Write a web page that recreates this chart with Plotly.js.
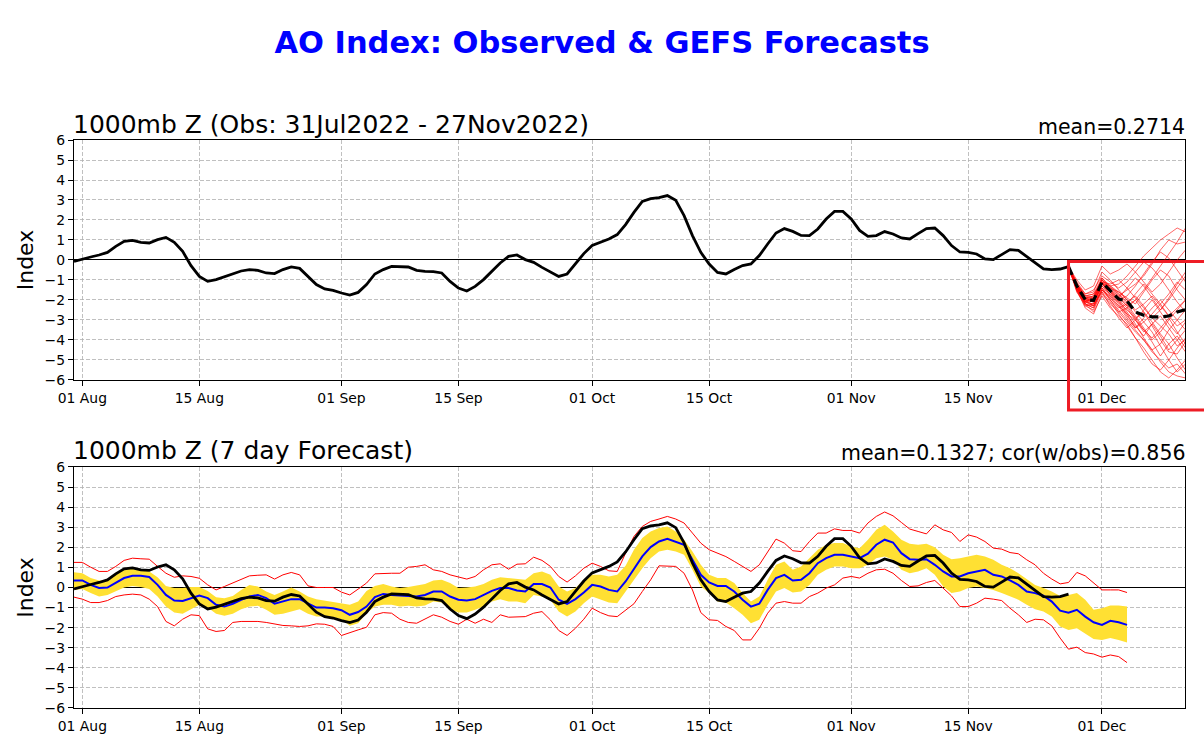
<!DOCTYPE html>
<html><head><meta charset="utf-8">
<script src="https://cdn.plot.ly/plotly-3.0.1.min.js"></script>
<style>html,body{margin:0;padding:0;background:#fff}#chart{width:1204px;height:748px}</style>
</head><body><div id="chart"></div>
<script>
// ---------------- DATA ----------------
const startDate = '2022-07-31';           // first observed day (index 0)
const obsAO = [
 -0.07, 0.05, 0.15, 0.25, 0.38, 0.68, 0.93, 0.98, 0.88, 0.85,
  1.02, 1.13, 0.88, 0.43,-0.28,-0.82,-1.07,-0.98,-0.83,-0.70,
 -0.55,-0.48,-0.52,-0.65,-0.68,-0.48,-0.35,-0.42,-0.82,-1.23,
 -1.45,-1.52,-1.65,-1.75,-1.62,-1.23,-0.70,-0.48,-0.32,-0.32,
 -0.35,-0.52,-0.57,-0.58,-0.65,-1.07,-1.40,-1.55,-1.32,-0.98,
 -0.57,-0.15, 0.18, 0.25, 0.02,-0.12,-0.37,-0.58,-0.82,-0.70,
 -0.20, 0.32, 0.73, 0.88, 1.05, 1.27, 1.77, 2.38, 2.93, 3.07,
  3.12, 3.22, 2.98, 2.22, 1.22, 0.38,-0.20,-0.62,-0.70,-0.48,
 -0.28,-0.20, 0.22, 0.80, 1.35, 1.57, 1.43, 1.23, 1.22, 1.55,
  2.05, 2.43, 2.43, 2.05, 1.48, 1.18, 1.22, 1.42, 1.30, 1.10,
  1.05, 1.32, 1.57, 1.60, 1.22, 0.72, 0.40, 0.38, 0.30, 0.05,
  0.02, 0.27, 0.52, 0.48, 0.18,-0.15,-0.45,-0.48,-0.45,-0.33
];
// 7-day GEFS forecast (verifying 31 Jul .. 04 Dec)
const fcst7Mean = [
  0.35, 0.35, 0.13,-0.02, 0.00, 0.22, 0.47, 0.58, 0.58, 0.52,
  0.13,-0.37,-0.65,-0.67,-0.53,-0.40,-0.53,-0.86,-0.95,-0.81,
 -0.61,-0.45,-0.37,-0.53,-0.81,-0.70,-0.58,-0.58,-0.78,-1.00,
 -1.00,-1.03,-1.13,-1.36,-1.22,-0.95,-0.48,-0.32,-0.37,-0.40,
 -0.45,-0.45,-0.37,-0.20,-0.20,-0.45,-0.61,-0.65,-0.58,-0.37,
 -0.17,-0.03,-0.03,-0.15,-0.20, 0.17, 0.17, 0.00,-0.61,-0.81,
 -0.58,-0.25, 0.13, 0.05,-0.12,-0.20, 0.30, 0.92, 1.55, 2.01,
  2.29, 2.42, 2.29, 2.13, 1.38, 0.63, 0.25, 0.08, 0.08,-0.20,
 -0.61,-0.95,-0.81,-0.12, 0.47, 0.63, 0.35, 0.38, 0.71, 1.21,
  1.46, 1.63, 1.63, 1.54, 1.46, 1.68, 2.13, 2.38, 2.24, 1.71,
  1.41, 1.38, 1.41, 1.13, 0.80, 0.55, 0.55, 0.71, 0.80, 0.88,
  0.63, 0.55, 0.35, 0.13,-0.20,-0.28,-0.41,-0.70,-1.15,-1.25,
 -1.11,-1.45,-1.73,-1.86,-1.66,-1.73,-1.86
];
const fcst7SpreadHi = [
  0.76, 0.71, 0.47, 0.35, 0.38, 0.63, 0.88, 0.96, 0.91, 0.80,
  0.51, 0.08,-0.03,-0.03, 0.02, 0.02,-0.17,-0.48,-0.53,-0.42,
 -0.12, 0.13, 0.05,-0.20,-0.37,-0.20, 0.00,-0.20,-0.45,-0.58,
 -0.65,-0.70,-0.78,-0.86,-0.70,-0.17, 0.08, 0.18, 0.05,-0.03,
  0.02, 0.08, 0.17, 0.35, 0.38, 0.22,-0.03, 0.00, 0.05, 0.18,
  0.38, 0.51, 0.47, 0.42, 0.38, 0.71, 0.80, 0.63, 0.05,-0.20,
 -0.03, 0.38, 0.63, 0.63, 0.55, 0.63, 1.08, 1.88, 2.46, 2.79,
  2.96, 3.04, 2.79, 2.38, 1.79, 1.13, 0.63, 0.47, 0.47, 0.22,
 -0.28,-0.70,-0.45, 0.38, 1.13, 1.30, 0.88, 1.05, 1.46, 1.88,
  2.13, 2.21, 2.21, 2.04, 1.96, 2.38, 2.87, 3.12, 2.79, 2.38,
  2.18, 2.13, 2.18, 2.01, 1.63, 1.41, 1.46, 1.54, 1.63, 1.54,
  1.38, 1.13, 0.96, 0.71, 0.42, 0.13,-0.03,-0.20,-0.42,-0.37,
 -0.28,-0.61,-1.11,-1.03,-0.90,-0.90,-0.95
];
const fcst7SpreadLo = [
 -0.12,-0.08,-0.28,-0.45,-0.37,-0.20, 0.00, 0.08, 0.02,-0.08,
 -0.45,-0.95,-1.25,-1.31,-1.08,-0.86,-1.00,-1.31,-1.41,-1.31,
 -1.08,-0.95,-0.91,-1.11,-1.36,-1.31,-1.20,-1.08,-1.31,-1.45,
 -1.45,-1.48,-1.58,-1.91,-1.78,-1.28,-0.95,-0.86,-0.86,-0.95,
 -0.91,-0.95,-0.90,-0.70,-0.75,-1.08,-1.25,-1.25,-1.11,-0.95,
 -0.70,-0.58,-0.70,-0.70,-0.78,-0.37,-0.45,-0.61,-1.20,-1.45,
 -1.20,-0.78,-0.45,-0.61,-0.75,-0.78,-0.20, 0.38, 0.96, 1.46,
  1.79, 1.88, 1.79, 1.63, 0.88, 0.05,-0.28,-0.70,-0.75,-1.03,
 -1.36,-1.78,-1.61,-0.86,-0.20,-0.03,-0.25,-0.20, 0.13, 0.63,
  0.88, 1.05, 1.05, 0.96, 0.96, 1.13, 1.46, 1.54, 1.38, 0.88,
  0.71, 0.80, 0.96, 0.63, 0.05,-0.28,-0.20,-0.03, 0.05,-0.03,
 -0.12,-0.28,-0.45,-0.61,-0.86,-1.08,-1.20,-1.45,-1.94,-2.11,
 -2.03,-2.28,-2.57,-2.61,-2.52,-2.61,-2.74
];
const fcst7Max = [
  1.25, 1.25, 1.01, 0.80, 0.80, 1.05, 1.35, 1.46, 1.43, 1.41,
  1.05, 0.71, 0.51, 0.58, 0.55, 0.46, 0.13,-0.12, 0.05, 0.22,
  0.42, 0.58, 0.61, 0.63, 0.42, 0.63, 0.75, 0.63, 0.08, 0.00,
  0.00, 0.00,-0.23,-0.37,-0.08, 0.22, 0.68, 0.71, 0.71, 0.71,
  1.01, 1.05, 1.13, 0.88, 0.80, 0.63, 0.51, 0.42, 0.55, 0.88,
  1.13, 1.18, 0.91, 1.16, 1.18, 1.51, 1.35, 1.05, 0.55, 0.27,
  0.58, 0.96, 1.21, 1.05, 0.83, 0.80, 1.71, 2.54, 3.04, 3.29,
  3.41, 3.54, 3.41, 3.21, 2.71, 2.21, 1.88, 1.71, 1.54, 1.30,
  1.05, 0.80, 1.13, 1.79, 2.41, 2.21, 1.83, 1.79, 2.29, 2.71,
  2.71, 2.92, 2.84, 2.84, 2.71, 3.21, 3.54, 3.76, 3.57, 3.24,
  2.91, 2.79, 2.67, 3.12, 2.87, 2.74, 2.29, 2.62, 2.51, 2.29,
  1.96, 1.91, 1.74, 1.68, 1.38, 1.13, 0.71, 0.42, 0.18, 0.25,
  0.75, 0.58, 0.22,-0.12,-0.12,-0.12,-0.25
];
const fcst7Min = [
 -0.48,-0.58,-0.75,-0.75,-0.65,-0.45,-0.37,-0.33,-0.37,-0.58,
 -0.95,-1.69,-1.91,-1.58,-1.36,-1.40,-2.06,-2.19,-2.14,-1.74,
 -1.69,-1.69,-1.69,-1.74,-1.81,-1.89,-1.91,-1.94,-1.91,-1.81,
 -1.83,-1.94,-2.39,-2.24,-2.11,-1.98,-1.36,-1.25,-1.28,-1.58,
 -1.74,-1.78,-1.58,-1.36,-1.48,-1.69,-1.83,-1.58,-1.78,-1.58,
 -1.74,-1.36,-1.48,-1.45,-1.45,-1.28,-1.20,-1.61,-2.14,-2.39,
 -2.03,-1.58,-1.03,-1.25,-1.41,-1.45,-1.11,-0.81,-0.20, 0.38,
  1.08, 1.08, 1.05, 0.71,-0.12,-1.25,-1.61,-1.64,-1.94,-2.14,
 -2.61,-2.61,-2.03,-1.28,-0.78,-0.70,-0.78,-0.78,-0.45,-0.28,
 -0.03, 0.13, 0.47, 0.55, 0.47, 0.71, 0.88, 0.91, 0.71, 0.35,
  0.05, 0.08, 0.25, 0.35,-0.03,-0.42,-0.95,-0.95,-0.78,-0.53,
 -0.58,-0.65,-1.03,-1.36,-1.74,-1.58,-1.61,-1.91,-2.52,-3.07,
 -2.97,-3.24,-3.31,-3.47,-3.36,-3.44,-3.74
];
// GEFS ensemble from 27 Nov (index 119)
const ensStartIndex = 119;
const ensMean = [-0.33,-1.30,-1.98,-2.02,-1.12,-1.55,-1.95,-2.05,-2.60,-2.76,-2.84,-2.85,-2.80,-2.60,-2.48];
const ensMembers = [
 [-0.33,-1.2,-1.9,-1.8,-1.0,-1.3,-1.2,-0.8,-0.3, 0.2, 0.6, 1.0, 1.3, 1.6, 1.4, 1.2],
 [-0.33,-1.4,-2.1,-2.2,-1.2,-1.6,-2.0,-2.6,-3.2,-3.9,-4.5,-5.1,-5.6,-5.8,-5.9,-6.0],
 [-0.33,-1.3,-2.0,-1.9,-0.9,-1.4,-1.8,-1.5,-1.2,-0.8,-0.2, 0.5, 1.0, 0.8, 0.9, 1.0],
 [-0.33,-1.5,-2.2,-2.4,-1.5,-2.0,-2.6,-3.1,-3.6,-4.0,-4.6,-5.0,-5.4,-5.2,-5.7,-5.8],
 [-0.33,-1.1,-1.7,-1.6,-0.6,-1.0,-1.5,-2.0,-2.5,-2.2,-1.8,-2.3,-2.8,-3.3,-3.0,-2.6],
 [-0.33,-1.6,-2.3,-2.5,-1.6,-2.3,-2.9,-3.4,-3.0,-3.5,-4.1,-4.8,-4.2,-3.8,-4.4,-4.5],
 [-0.33,-1.3,-1.8,-1.7,-1.1,-1.4,-1.6,-1.9,-2.2,-1.6,-1.0,-0.5,-0.8,-1.5,-2.0,-2.2],
 [-0.33,-1.4,-2.0,-2.1,-1.3,-1.7,-2.2,-2.8,-3.3,-3.8,-3.2,-2.8,-3.4,-4.0,-4.6,-4.8],
 [-0.33,-1.2,-1.9,-1.9,-1.2,-1.5,-1.9,-1.4,-0.9,-1.3,-1.9,-2.5,-2.0,-1.4,-0.8,-0.5],
 [-0.33,-1.5,-2.1,-2.0,-1.4,-1.9,-2.4,-2.2,-2.8,-3.4,-4.0,-3.6,-3.0,-2.5,-2.0,-1.8],
 [-0.33,-1.3,-2.0,-2.3,-1.5,-1.8,-2.1,-2.5,-2.9,-2.6,-3.1,-3.7,-4.2,-4.9,-5.5,-5.6],
 [-0.33,-1.4,-2.2,-2.6,-1.8,-2.4,-2.8,-3.2,-3.9,-4.4,-5.0,-5.6,-5.9,-5.5,-5.0,-4.8],
 [-0.33,-1.0,-1.5,-1.3,-0.3,-0.7,-0.5,-0.2,-0.6,-1.1,-1.6,-1.2,-0.6, 0.0, 0.5, 0.7],
 [-0.33,-1.4,-1.9,-1.8,-1.0,-1.4,-1.7,-2.1,-1.8,-2.3,-2.9,-2.5,-1.9,-1.2,-0.6,-0.3],
 [-0.33,-1.3,-2.1,-2.2,-1.3,-1.6,-2.1,-2.7,-3.0,-3.6,-3.2,-3.8,-4.5,-4.0,-3.5,-3.2],
 [-0.33,-1.2,-1.8,-1.9,-1.1,-1.2,-1.0,-1.4,-1.9,-2.4,-2.9,-3.3,-3.7,-4.3,-4.0,-3.8],
 [-0.33,-1.5,-2.4,-2.7,-1.7,-2.2,-2.6,-2.4,-2.0,-2.6,-3.3,-4.0,-4.6,-4.7,-4.1,-3.9],
 [-0.33,-1.3,-1.9,-2.0,-1.2,-1.5,-1.8,-2.3,-2.0,-1.5,-0.9,-0.3, 0.3, 0.9, 1.6, 1.7],
 [-0.33,-1.4,-2.0,-2.1,-1.1,-1.8,-2.3,-2.7,-3.4,-2.9,-2.4,-2.0,-2.5,-3.0,-3.5,-3.4],
 [-0.33,-1.6,-2.2,-2.3,-1.4,-2.0,-2.5,-3.0,-3.5,-4.0,-4.5,-4.2,-3.5,-3.0,-2.5,-2.7],
 [-0.33,-1.2,-1.7,-1.5,-0.8,-1.1,-1.4,-1.1,-0.6,-0.1,-0.4,-0.9,-1.5,-2.1,-2.6,-2.9],
 [-0.33,-1.5,-2.3,-2.2,-1.6,-2.1,-2.7,-3.3,-3.9,-4.6,-5.2,-5.5,-5.0,-4.4,-3.9,-3.6],
 [-0.33,-1.3,-1.9,-2.1,-1.2,-1.3,-1.6,-2.0,-2.6,-3.1,-2.7,-2.2,-1.7,-1.1,-1.5,-1.9],
 [-0.33,-1.4,-2.1,-1.9,-1.1,-1.6,-1.9,-2.3,-2.9,-3.5,-3.9,-3.4,-2.9,-3.6,-4.2,-4.1],
 [-0.33,-1.2,-1.8,-1.7,-0.9,-1.3,-1.7,-2.2,-1.7,-1.2,-1.7,-2.2,-2.8,-2.4,-2.0,-1.5],
 [-0.33,-1.5,-2.2,-2.4,-1.5,-1.9,-2.3,-2.9,-3.4,-3.1,-3.6,-4.3,-5.0,-5.6,-5.2,-5.3],
 [-0.33,-1.3,-2.0,-2.0,-1.0,-1.5,-2.0,-1.8,-1.3,-0.7,-0.1, 0.4, 0.1,-0.5,-1.1,-1.3],
 [-0.33,-1.4,-2.1,-2.3,-1.4,-1.7,-2.0,-2.4,-3.0,-2.5,-2.0,-2.6,-3.2,-3.7,-3.1,-2.9]
];
const tickDates  = ['2022-08-01','2022-08-15','2022-09-01','2022-09-15','2022-10-01','2022-10-15','2022-11-01','2022-11-15','2022-12-01'];
const tickLabels = ['01 Aug','15 Aug','01 Sep','15 Sep','01 Oct','15 Oct','01 Nov','15 Nov','01 Dec'];
const mainTitle = 'AO Index: Observed & GEFS Forecasts';
const topTitle = '1000mb Z (Obs: 31Jul2022 - 27Nov2022)';
const topStat = 'mean=0.2714';
const botTitle = '1000mb Z (7 day Forecast)';
const botStat = 'mean=0.1327; cor(w/obs)=0.856';

// ---------------- HELPERS ----------------
function dayStr(i){ const d = new Date(Date.UTC(2022, 6, 31 + i)); return d.toISOString().slice(0,10); }
function dates(n, offset){ const a=[]; for(let i=0;i<n;i++) a.push(dayStr(i+(offset||0))); return a; }

const xRange = ['2022-07-31 00:00', '2022-12-10 22:30'];
const FONT = 'DejaVu Sans, Liberation Sans, sans-serif';

const traces = [];
// top panel: ensemble members
ensMembers.forEach(m => traces.push({
  x: dates(m.length, ensStartIndex), y: m, type:'scatter', mode:'lines',
  line:{color:'rgba(255,0,0,0.75)', width:0.8}, xaxis:'x', yaxis:'y', hoverinfo:'skip'
}));
traces.push({ x: dates(ensMean.length, ensStartIndex), y: ensMean, type:'scatter', mode:'lines',
  line:{color:'black', width:3.2, dash:'9px,5px'}, xaxis:'x', yaxis:'y' });
traces.push({ x: dates(obsAO.length), y: obsAO, type:'scatter', mode:'lines',
  line:{color:'black', width:2.8}, xaxis:'x', yaxis:'y' });

// bottom panel
traces.push({ x: dates(fcst7SpreadLo.length), y: fcst7SpreadLo, type:'scatter', mode:'lines',
  line:{color:'rgba(0,0,0,0)', width:0}, xaxis:'x2', yaxis:'y2', hoverinfo:'skip' });
traces.push({ x: dates(fcst7SpreadHi.length), y: fcst7SpreadHi, type:'scatter', mode:'lines',
  fill:'tonexty', fillcolor:'#ffe033', line:{color:'rgba(0,0,0,0)', width:0}, xaxis:'x2', yaxis:'y2', hoverinfo:'skip' });
traces.push({ x: dates(fcst7Max.length), y: fcst7Max, type:'scatter', mode:'lines',
  line:{color:'#ff0000', width:1}, xaxis:'x2', yaxis:'y2' });
traces.push({ x: dates(fcst7Min.length), y: fcst7Min, type:'scatter', mode:'lines',
  line:{color:'#ff0000', width:1}, xaxis:'x2', yaxis:'y2' });
traces.push({ x: dates(fcst7Mean.length), y: fcst7Mean, type:'scatter', mode:'lines',
  line:{color:'#0000ff', width:2}, xaxis:'x2', yaxis:'y2' });
traces.push({ x: dates(obsAO.length), y: obsAO, type:'scatter', mode:'lines',
  line:{color:'black', width:2.8}, xaxis:'x2', yaxis:'y2' });

const topDom = [0.5775, 1];
const botDom = [0, 0.4243];

function xAxis(anchor){
  return { type:'date', range:xRange, anchor:anchor, domain:[0,1],
    tickvals: tickDates, ticktext: tickLabels, tickmode:'array',
    showgrid:true, gridcolor:'#b0b0b0', gridwidth:0.8, griddash:'4px,2px',
    showline:true, mirror:true, linecolor:'black', linewidth:1.2,
    ticks:'outside', ticklen:5, tickwidth:1, tickcolor:'black',
    tickfont:{size:13.9, color:'black', family:FONT}, zeroline:false, automargin:false };
}
function yAxis(anchor, dom){
  return { range:[-6,6], domain:dom, anchor:anchor, tickmode:'linear', tick0:0, dtick:1,
    showgrid:true, gridcolor:'#b0b0b0', gridwidth:0.8, griddash:'4px,2px',
    zeroline:true, zerolinecolor:'black', zerolinewidth:1,
    showline:true, mirror:true, linecolor:'black', linewidth:1.2,
    ticks:'outside', ticklen:5, tickwidth:1, tickcolor:'black',
    tickfont:{size:13.9, color:'black', family:FONT},
    title:{text:'Index', font:{size:22, color:'black', family:FONT}, standoff:4},
    automargin:false };
}

// red rectangle around forecast period (paper coords derived from the date axis)
const t0 = Date.parse(xRange[0].replace(' ','T')+'Z'), t1 = Date.parse(xRange[1].replace(' ','T')+'Z');
const tf = Date.parse(dayStr(ensStartIndex)+'T00:00:00Z');
const rectX0 = (tf - t0) / (t1 - t0);

const layout = {
  width:1204, height:748,
  margin:{l:74, r:19, t:140, b:40},
  paper_bgcolor:'white', plot_bgcolor:'white',
  font:{family:FONT, color:'black'},
  showlegend:false,
  title:{text:mainTitle, font:{size:30.5, color:'#0000ff', family:FONT, weight:'bold'},
    x:0.5, xref:'container', xanchor:'center', y:1-42/748, yref:'container', yanchor:'middle'},
  xaxis: xAxis('y'),
  yaxis: yAxis('x', topDom),
  xaxis2: xAxis('y2'),
  yaxis2: yAxis('x2', botDom),
  annotations:[
    {text:topTitle, xref:'paper', yref:'paper', x:0, y:topDom[1], xanchor:'left', yanchor:'bottom', showarrow:false, font:{size:25, family:FONT, color:'black'}, yshift:-1, xshift:-3},
    {text:topStat, xref:'paper', yref:'paper', x:1, y:topDom[1], xanchor:'right', yanchor:'bottom', showarrow:false, font:{size:20.5, family:FONT, color:'black'}, yshift:-1, xshift:2},
    {text:botTitle, xref:'paper', yref:'paper', x:0, y:botDom[1], xanchor:'left', yanchor:'bottom', showarrow:false, font:{size:25, family:FONT, color:'black'}, yshift:0, xshift:-3},
    {text:botStat, xref:'paper', yref:'paper', x:1, y:botDom[1], xanchor:'right', yanchor:'bottom', showarrow:false, font:{size:20.5, family:FONT, color:'black'}, yshift:0, xshift:2}
  ],
  shapes:[
    {type:'rect', xref:'paper', yref:'paper', x0:rectX0, x1:1.2, y0:0.5246, y1:0.786,
     line:{color:'#ee1c25', width:3}, fillcolor:'rgba(0,0,0,0)', layer:'above'}
  ]
};

Plotly.newPlot('chart', traces, layout, {staticPlot:true, displayModeBar:false});
</script>
</body></html>
